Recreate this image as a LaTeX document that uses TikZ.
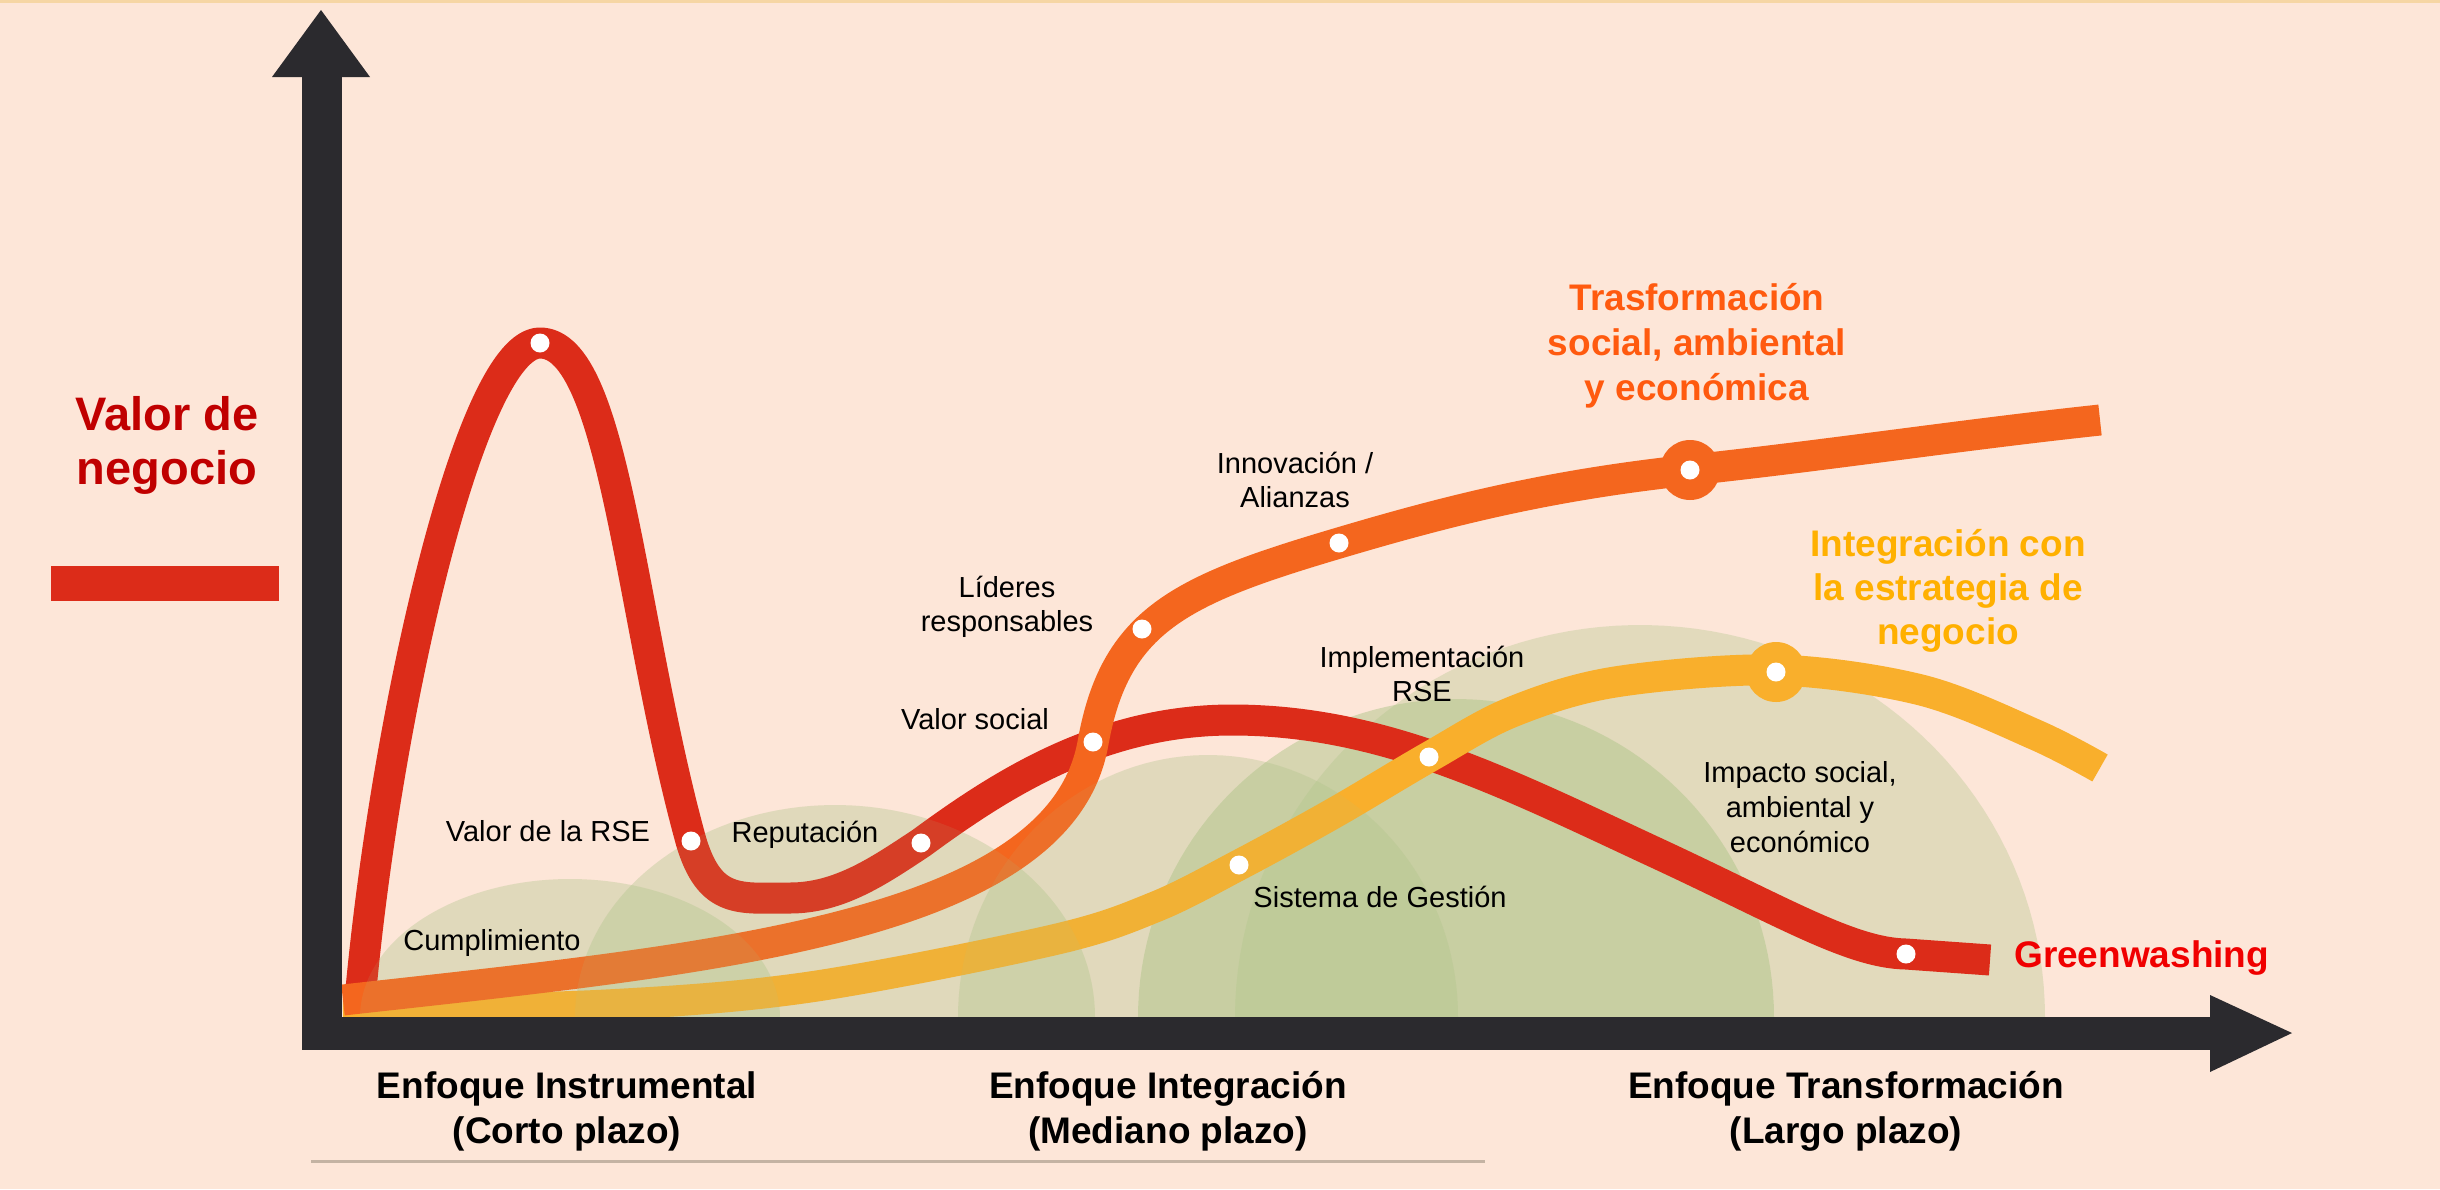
\documentclass[tikz,border=0pt]{standalone}
\usepackage{fontspec}
\setmainfont{Liberation Sans}
\definecolor{bg}{HTML}{FDE6D8}
\definecolor{axisc}{HTML}{2B2A2E}
\definecolor{cred}{HTML}{DC2C19}
\definecolor{corange}{HTML}{F4661E}
\definecolor{cyellow}{HTML}{F9AF2C}
\definecolor{domec}{HTML}{B0C58A}
\definecolor{tred}{HTML}{C00000}
\definecolor{torange}{HTML}{FF5A0F}
\definecolor{tyellow}{HTML}{FFB000}
\definecolor{tgw}{HTML}{F00000}
\definecolor{topline}{HTML}{F6D6A4}
\definecolor{uline}{HTML}{C4B3A3}
\newcommand{\mlines}[1]{\begin{tabular}[t]{@{}c@{}}#1\end{tabular}}
\newcommand{\domeshape}[4]{\fill[#4] plot[domain=180:360,samples=80,variable=\t] ({#1+#2*cos(\t)},{1017+#3*sin(\t)}) -- cycle;}
\begin{document}
\begin{tikzpicture}[x=1pt,y=-1pt,
  lbl/.style={anchor=base,inner sep=0pt,font=\fontsize{29}{34}\selectfont,text=black},
  ttl/.style={anchor=base,inner sep=0pt,font=\fontsize{37}{45}\selectfont\bfseries,text=black},
  bigt/.style={anchor=base,inner sep=0pt,font=\fontsize{47}{54}\selectfont\bfseries},
  curve/.style={line width=31pt,line cap=butt,line join=round},
  wdot/.style={circle,fill=white,inner sep=0pt,minimum size=19pt},
  bdot/.style={circle,inner sep=0pt,minimum size=60pt}]
\useasboundingbox (0,0) rectangle (2440,1189);
\fill[bg] (0,0) rectangle (2440,1189);
\fill[topline] (0,0) rectangle (2440,3);
% background domes
\domeshape{1640}{405}{392}{domec,opacity=0.35}
\domeshape{1456}{318}{318}{domec,opacity=0.5}
\domeshape{570}{210}{138}{domec,opacity=0.28}
\domeshape{835}{260}{212}{domec,opacity=0.28}
\domeshape{1208}{250}{262}{domec,opacity=0.28}
% curves
\draw[curve,cred] (360,1000) .. controls (385,720) and (470,343) .. (540,343)
  .. controls (615,343) and (630,620) .. (691,841)
  .. controls (710,905) and (740,898) .. (790,898)
  .. controls (840,898) and (880,870) .. (921,843)
  .. controls (1000,785) and (1100,720) .. (1232,720)
  .. controls (1380,720) and (1500,780) .. (1650,850)
  .. controls (1780,910) and (1850,953) .. (1906,954)
  -- (1990,960);
\draw[curve,cyellow] plot[smooth,tension=0.55] coordinates {(343,1012) (606,1005) (810,987) (1053,940) (1155,907) (1239,865) (1334,813) (1429,757) (1512,712) (1615,682) (1776,670) (1921,690) (2036,735) (2100,768)};
\draw[curve,corange] (343,1000) .. controls (700,960) and (1060,930) .. (1093,743)
  .. controls (1115,620) and (1180,590) .. (1339,543)
  .. controls (1450,510) and (1550,485) .. (1690,470)
  .. controls (1830,455) and (1960,435) .. (2100,420);
% light overlay of the lower domes
\domeshape{570}{210}{138}{domec,opacity=0.12}
\domeshape{835}{260}{212}{domec,opacity=0.12}
\domeshape{1208}{250}{262}{domec,opacity=0.1}
% axes
\fill[axisc] (302,75) rectangle (342,1050);
\fill[axisc] (272,77) -- (321,10) -- (370,77) -- cycle;
\fill[axisc] (302,1017) rectangle (2212,1050);
\fill[axisc] (2210,995) -- (2292,1033) -- (2210,1072) -- cycle;
% dots
\node[bdot,fill=corange] (bo) at (1690,470) {};
\node[bdot,fill=cyellow] (by) at (1776,672) {};
\node[wdot] (d1) at (540,343) {};
\node[wdot] (d2) at (691,841) {};
\node[wdot] (d3) at (921,843) {};
\node[wdot] (d4) at (1093,742) {};
\node[wdot] (d5) at (1142,629) {};
\node[wdot] (d6) at (1339,543) {};
\node[wdot] (d7) at (1690,470) {};
\node[wdot] (d8) at (1239,865) {};
\node[wdot] (d9) at (1429,757) {};
\node[wdot] (d10) at (1776,672) {};
\node[wdot] (d11) at (1906,954) {};
% legend
\fill[cred] (51,566) rectangle (279,601);
\node[bigt,text=tred] (valor) at (167,430) {\mlines{Valor de\\negocio}};
% labels
\node[lbl] (cumpl) at (492,950) {Cumplimiento};
\node[lbl] (vrse) at (548,841) {Valor de la RSE};
\node[lbl] (rep) at (805,842) {Reputación};
\node[lbl] (vsoc) at (975,729) {Valor social};
\node[lbl] (lid) at (1007,597) {\mlines{Líderes\\responsables}};
\node[lbl] (innov) at (1295,473) {\mlines{Innovación /\\Alianzas}};
\node[lbl] (impl) at (1422,667) {\mlines{Implementación\\RSE}};
\node[lbl] (sist) at (1380,907) {Sistema de Gestión};
\node[lbl,font=\fontsize{29}{35}\selectfont] (impacto) at (1800,782) {\mlines{Impacto social,\\ambiental y\\económico}};
\node[ttl,text=torange] (trans) at (1697,310) {\mlines{Trasformación\\social, ambiental\\y económica}};
\node[ttl,text=tyellow,font=\fontsize{37}{44}\selectfont\bfseries] (integ) at (1948,556) {\mlines{Integración con\\la estrategia de\\negocio}};
\node[ttl,text=tgw,anchor=base west] (gw) at (2014,967) {Greenwashing};
% axis labels
\node[ttl] (e1) at (567,1098) {\mlines{Enfoque Instrumental\\(Corto plazo)}};
\node[ttl] (e2) at (1168,1098) {\mlines{Enfoque Integración\\(Mediano plazo)}};
\node[ttl] (e3) at (1846,1098) {\mlines{Enfoque Transformación\\(Largo plazo)}};
\draw[uline,line width=3pt] (311,1161) -- (1485,1161);
\end{tikzpicture}
\end{document}
